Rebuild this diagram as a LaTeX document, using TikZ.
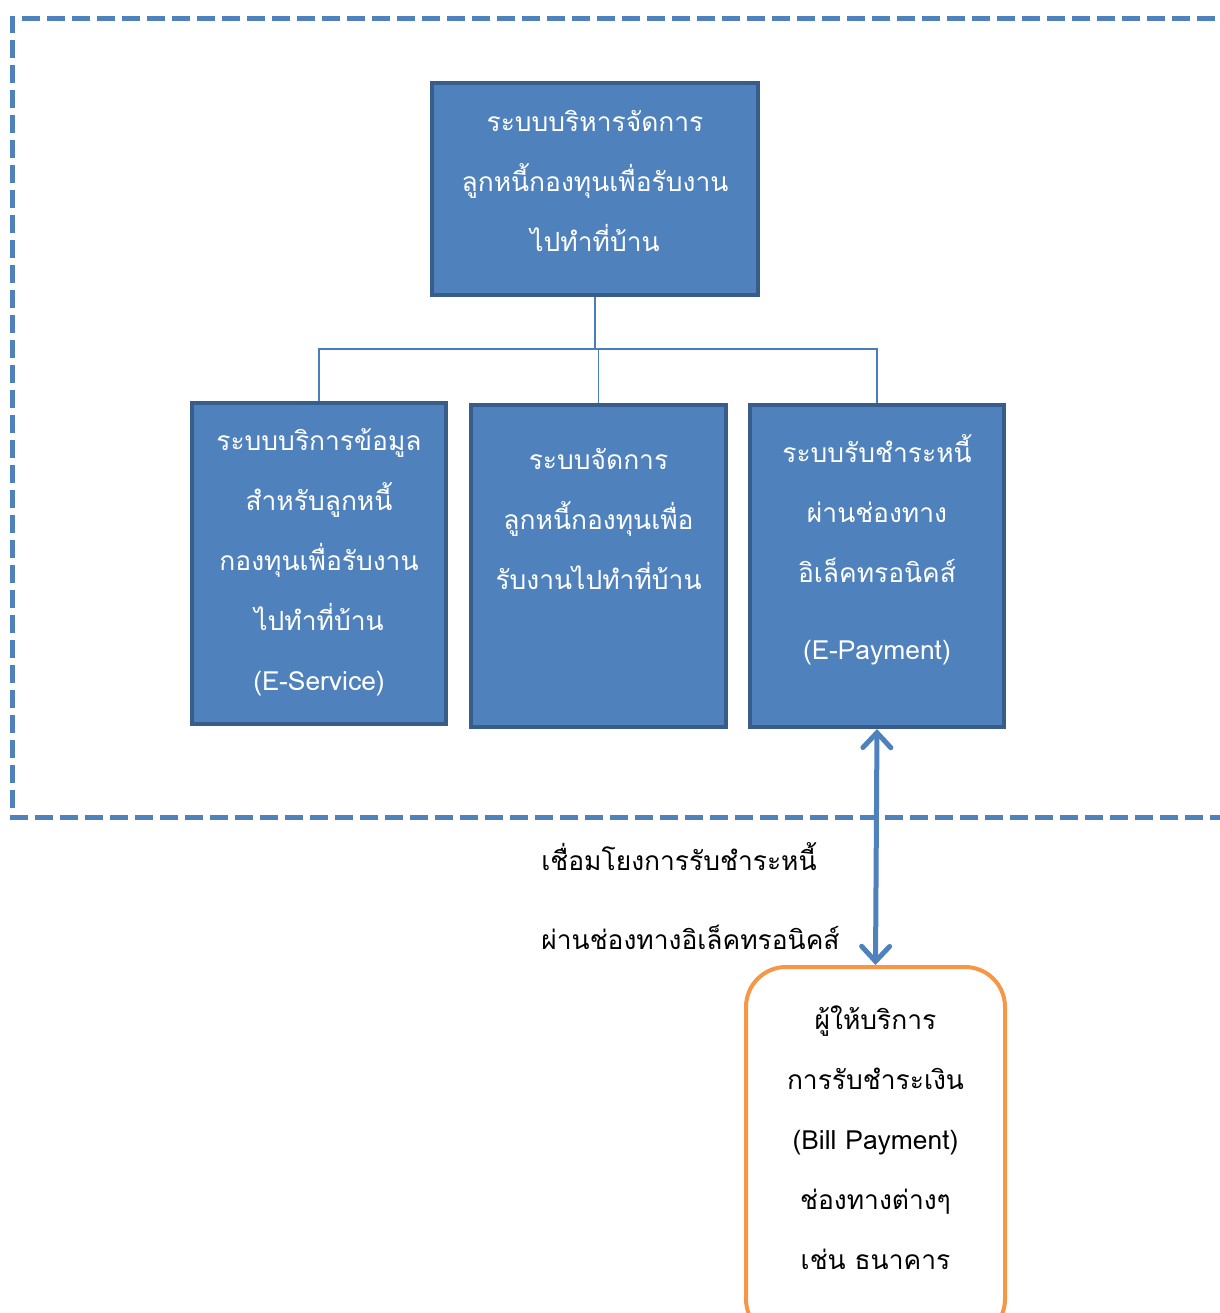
\documentclass[tikz,border=0pt]{standalone}
\usepackage{fontspec}
\setmainfont[Script=Thai]{Loma}
\usetikzlibrary{arrows.meta}
\definecolor{boxfill}{HTML}{4F81BD}
\definecolor{boxedge}{HTML}{385D8A}
\definecolor{orng}{HTML}{F79646}
\definecolor{conn}{HTML}{4A7EBB}
\tikzset{
  bluebox/.style={draw=boxedge,fill=boxfill,line width=2pt,rectangle,inner sep=0pt,anchor=center},
  wtext/.style={text=white,align=center,inner sep=0pt,font=\fontsize{13.2pt}{30pt}\selectfont},
  btext/.style={text=black,align=center,inner sep=0pt,font=\fontsize{13.2pt}{30pt}\selectfont},
  connline/.style={draw=conn,line width=0.75pt},
  biarrow/.style={draw=boxfill,line width=2.5pt,{Straight Barb[length=7.5pt,width=14pt,line cap=round]}-{Straight Barb[length=7.5pt,width=14pt,line cap=round]}},
  frame/.style={draw=boxfill,line width=2.5pt,dash pattern=on 9pt off 3.5pt}
}
\begin{document}
\begin{tikzpicture}[x=0.5pt,y=-0.5pt]
\clip (0,0) rectangle (1220,1313);
\useasboundingbox (0,0) rectangle (1220,1313);
% dashed frame
\draw[frame] (1240,18) -- (12,18) -- (12,817) -- (1240,817);
% boxes
\node[bluebox,minimum width=163pt,minimum height=106pt] (top) at (595,189) {};
\node[bluebox,minimum width=127pt,minimum height=160.5pt] (left) at (319,563.5) {};
\node[bluebox,minimum width=127.5pt,minimum height=161pt] (mid) at (598.5,566) {};
\node[bluebox,minimum width=127pt,minimum height=161pt] (right) at (877,566) {};
\node[draw=orng,line width=2pt,rounded corners=20pt,minimum width=129.5pt,minimum height=186pt,inner sep=0pt] (bank) at (875.5,1153) {};
% texts
\node[wtext] (ttop) at (595,181) {ระบบบริหารจัดการ\\ลูกหนี้กองทุนเพื่อรับงาน\\ไปทำที่บ้าน};
\node[wtext] (tleft) at (319,562.5) {ระบบบริการข้อมูล\\สำหรับลูกหนี้\\กองทุนเพื่อรับงาน\\ไปทำที่บ้าน\\(E-Service)};
\node[wtext] (tmid) at (598.5,519) {ระบบจัดการ\\ลูกหนี้กองทุนเพื่อ\\รับงานไปทำที่บ้าน};
\node[wtext] (tright) at (877,509) {ระบบรับชำระหนี้\\ผ่านช่องทาง\\อิเล็คทรอนิคส์};
\node[wtext] (tpay) at (877,653) {(E-Payment)};
\node[btext] (tbank) at (875.5,1138) {ผู้ให้บริการ\\การรับชำระเงิน\\(Bill Payment)\\ช่องทางต่างๆ\\เช่น ธนาคาร};
\node[btext,align=left,anchor=west,font=\fontsize{13.2pt}{39.5pt}\selectfont] (tlink) at (541,896) {เชื่อมโยงการรับชำระหนี้\\ผ่านช่องทางอิเล็คทรอนิคส์};
% connectors
\coordinate (j) at (595,349);
\draw[connline] (top.south) -- (j);
\draw[connline] (j) -| (left.north);
\draw[connline] (j) -| (mid.north);
\draw[connline] (j) -| (right.north);
\draw[biarrow] (right.south) -- (bank.north);
\end{tikzpicture}
\end{document}
